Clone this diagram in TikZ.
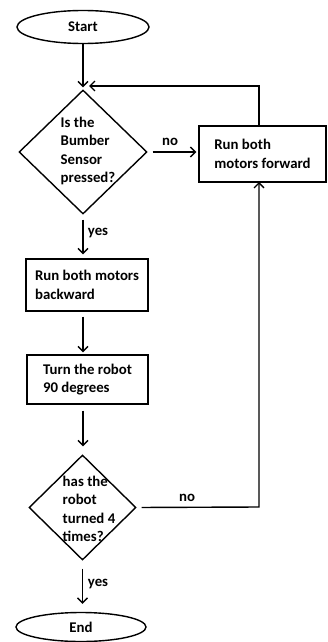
\documentclass[tikz,border=0pt]{standalone}
\usepackage{fontspec}
\setmainfont{Carlito}
\usetikzlibrary{shapes.geometric,arrows.meta}
\begin{document}
\begin{tikzpicture}[x=1pt,y=-1pt,
  every node/.style={font=\fontsize{14.8}{18.3}\selectfont\bfseries},
  flow/.style={line width=1.4pt},
  arr/.style={flow,-{Straight Barb[length=5pt,width=10pt,line width=1.4pt]}},
  term/.style={draw,flow,ellipse,inner sep=0pt},
  stepbox/.style={draw,flow,rectangle,align=left,inner sep=0pt},
  decide/.style={draw,flow,diamond,inner sep=0pt},
  dtext/.style={align=left,inner sep=0pt},
  lbl/.style={inner sep=0pt}]
\useasboundingbox (0,0) rectangle (327,642);

% terminals, decisions and steps
\node[term,minimum width=132pt,minimum height=33pt] (start) at (83,27) {Start};
\node[decide,minimum width=128pt,minimum height=124pt] (d1) at (83,152) {};
\node[dtext] (d1t) at (88,151) {Is the\\Bumber\\Sensor\\pressed?};
\node[stepbox,minimum width=127pt,minimum height=56pt] (fwd) at (262.5,154) {Run both\\motors forward};
\node[stepbox,minimum width=122pt,minimum height=52pt] (back) at (87,285) {Run both motors\\backward};
\node[stepbox,minimum width=121pt,minimum height=49pt] (turn) at (87.5,379.5) {Turn the robot\\90 degrees};
\node[decide,minimum width=107pt,minimum height=105pt] (d2) at (82.5,507.5) {};
\node[dtext] (d2t) at (89,509) {has the\\robot\\turned 4\\times?};
\node[term,minimum width=130pt,minimum height=29pt] (end) at (81,627) {End};

% helper points for the loop-back paths
\coordinate (loopin) at (89,86);
\coordinate (loopup) at (259,86);
\coordinate (fwdbot) at (259,182);
\coordinate (turnback) at (259,507);
\coordinate (fwdtop) at (259,126);

% connectors
\draw[arr,shorten >=2pt] (start.south) -- (d1.north);
\draw[arr,shorten <=5pt,shorten >=2pt] (d1.east) -- (fwd.west |- d1.east);
\draw[arr] (fwdtop) -- (loopup) -- (loopin);
\draw[arr,shorten <=5pt,shorten >=4pt] (d1.south) -- (d1.south |- back.north);
\draw[arr,shorten <=5pt,shorten >=2pt] (d1.south |- back.south) -- (d1.south |- turn.north);
\draw[arr,shorten <=6pt,shorten >=8pt] (d1.south |- turn.south) -- (d1.south |- d2.north);
\draw[arr,shorten <=5pt] (d2.east) -- (turnback) -- (fwdbot);
\draw[arr,shorten <=8pt,shorten >=8pt] (d2.south) -- (d2.south |- end.north);

% branch labels
\node[lbl] (no1) at (170,142) {no};
\node[lbl] (yes1) at (98,233) {yes};
\node[lbl] (no2) at (187,498) {no};
\node[lbl] (yes2) at (98,584) {yes};
\end{tikzpicture}
\end{document}
